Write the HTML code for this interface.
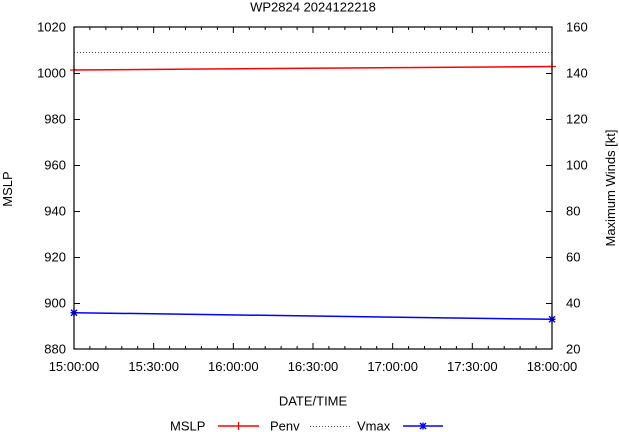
<!DOCTYPE html>
<html><head><meta charset="utf-8"><style>
html,body{margin:0;padding:0;background:#fff;}
svg{display:block;font-family:"Liberation Sans",Arial,sans-serif;font-size:13px;}
</style></head><body>
<svg width="619" height="432" viewBox="0 0 619 432" xmlns="http://www.w3.org/2000/svg">
<rect width="619" height="432" fill="#fff"/>
<text x="313" y="11.5" text-anchor="middle">WP2824 2024122218</text>
<!-- Penv dotted -->
<line x1="74" y1="52.5" x2="552" y2="52.5" stroke="#555" stroke-width="1" stroke-dasharray="1,2"/>
<!-- ticks -->
<g stroke="#000" stroke-width="1">
<!-- left y major -->
<line x1="74" y1="73.5" x2="80" y2="73.5"/>
<line x1="74" y1="119.5" x2="80" y2="119.5"/>
<line x1="74" y1="165.5" x2="80" y2="165.5"/>
<line x1="74" y1="211.5" x2="80" y2="211.5"/>
<line x1="74" y1="257.5" x2="80" y2="257.5"/>
<line x1="74" y1="303.5" x2="80" y2="303.5"/>
<!-- right y major -->
<line x1="546" y1="73.5" x2="552" y2="73.5"/>
<line x1="546" y1="119.5" x2="552" y2="119.5"/>
<line x1="546" y1="165.5" x2="552" y2="165.5"/>
<line x1="546" y1="211.5" x2="552" y2="211.5"/>
<line x1="546" y1="257.5" x2="552" y2="257.5"/>
<line x1="546" y1="303.5" x2="552" y2="303.5"/>
</g>
<g id="xt" stroke="#000" stroke-width="1"></g>
<!-- MSLP red -->
<line x1="74" y1="70" x2="552" y2="66.5" stroke="#f00" stroke-width="1.5"/>
<g stroke="#f00" stroke-width="1.2">
<line x1="70" y1="70" x2="78" y2="70"/><line x1="74" y1="66" x2="74" y2="74"/>
<line x1="548" y1="66.5" x2="556" y2="66.5"/><line x1="552" y1="62.5" x2="552" y2="70.5"/>
</g>
<!-- Vmax blue -->
<line x1="74" y1="312.7" x2="552" y2="319.3" stroke="#00f" stroke-width="1.5"/>
<g stroke="#00f" stroke-width="1.4">
<line x1="71" y1="309.7" x2="77" y2="315.7"/><line x1="71" y1="315.7" x2="77" y2="309.7"/><line x1="74" y1="309.2" x2="74" y2="316.2"/><line x1="70.5" y1="312.7" x2="77.5" y2="312.7"/>
<line x1="549" y1="316.3" x2="555" y2="322.3"/><line x1="549" y1="322.3" x2="555" y2="316.3"/><line x1="552" y1="315.8" x2="552" y2="322.8"/><line x1="548.5" y1="319.3" x2="555.5" y2="319.3"/>
</g>
<!-- frame -->
<rect x="74" y="27" width="478" height="322" fill="none" stroke="#000" stroke-width="1.2"/>
<!-- x ticks -->
<g stroke="#000" stroke-width="1">
<path d="
M153.67 349v-6M233.33 349v-6M313 349v-6M392.67 349v-6M472.33 349v-6
M153.67 27v6M233.33 27v6M313 27v6M392.67 27v6M472.33 27v6
M89.9 349v-3M105.9 349v-3M121.8 349v-3M137.7 349v-3
M169.6 349v-3M185.5 349v-3M201.4 349v-3M217.4 349v-3
M249.3 349v-3M265.2 349v-3M281.1 349v-3M297.1 349v-3
M328.9 349v-3M344.9 349v-3M360.8 349v-3M376.7 349v-3
M408.6 349v-3M424.5 349v-3M440.4 349v-3M456.4 349v-3
M488.3 349v-3M504.2 349v-3M520.1 349v-3M536.1 349v-3
M89.9 27v3M105.9 27v3M121.8 27v3M137.7 27v3
M169.6 27v3M185.5 27v3M201.4 27v3M217.4 27v3
M249.3 27v3M265.2 27v3M281.1 27v3M297.1 27v3
M328.9 27v3M344.9 27v3M360.8 27v3M376.7 27v3
M408.6 27v3M424.5 27v3M440.4 27v3M456.4 27v3
M488.3 27v3M504.2 27v3M520.1 27v3M536.1 27v3" fill="none"/>
</g>
<!-- left labels -->
<g text-anchor="end">
<text x="66" y="31.5">1020</text>
<text x="66" y="77.5">1000</text>
<text x="66" y="123.5">980</text>
<text x="66" y="169.5">960</text>
<text x="66" y="215.5">940</text>
<text x="66" y="261.5">920</text>
<text x="66" y="307.5">900</text>
<text x="66" y="353.5">880</text>
</g>
<!-- right labels -->
<g text-anchor="start">
<text x="566" y="31.5">160</text>
<text x="566" y="77.5">140</text>
<text x="566" y="123.5">120</text>
<text x="566" y="169.5">100</text>
<text x="566" y="215.5">80</text>
<text x="566" y="261.5">60</text>
<text x="566" y="307.5">40</text>
<text x="566" y="353.5">20</text>
</g>
<!-- x labels -->
<g text-anchor="middle">
<text x="74" y="371">15:00:00</text>
<text x="153.67" y="371">15:30:00</text>
<text x="233.33" y="371">16:00:00</text>
<text x="313" y="371">16:30:00</text>
<text x="392.67" y="371">17:00:00</text>
<text x="472.33" y="371">17:30:00</text>
<text x="552" y="371">18:00:00</text>
<text x="313" y="405.5">DATE/TIME</text>
</g>
<text transform="translate(12,189) rotate(-90)" text-anchor="middle">MSLP</text>
<text transform="translate(615,188) rotate(-90)" text-anchor="middle">Maximum Winds [kt]</text>
<!-- legend -->
<text x="170" y="430.5">MSLP</text>
<line x1="218" y1="426" x2="259" y2="426" stroke="#f00" stroke-width="1.5"/>
<line x1="238.5" y1="422" x2="238.5" y2="430" stroke="#f00" stroke-width="1.2"/>
<text x="270" y="430.5">Penv</text>
<line x1="310" y1="426.5" x2="350" y2="426.5" stroke="#555" stroke-width="1" stroke-dasharray="1,2"/>
<text x="357" y="430.5">Vmax</text>
<line x1="403" y1="426" x2="443" y2="426" stroke="#00f" stroke-width="1.5"/>
<g stroke="#00f" stroke-width="1.4">
<line x1="420" y1="423" x2="426" y2="429"/><line x1="420" y1="429" x2="426" y2="423"/><line x1="423" y1="422.5" x2="423" y2="429.5"/>
</g>
</svg>
</body></html>
